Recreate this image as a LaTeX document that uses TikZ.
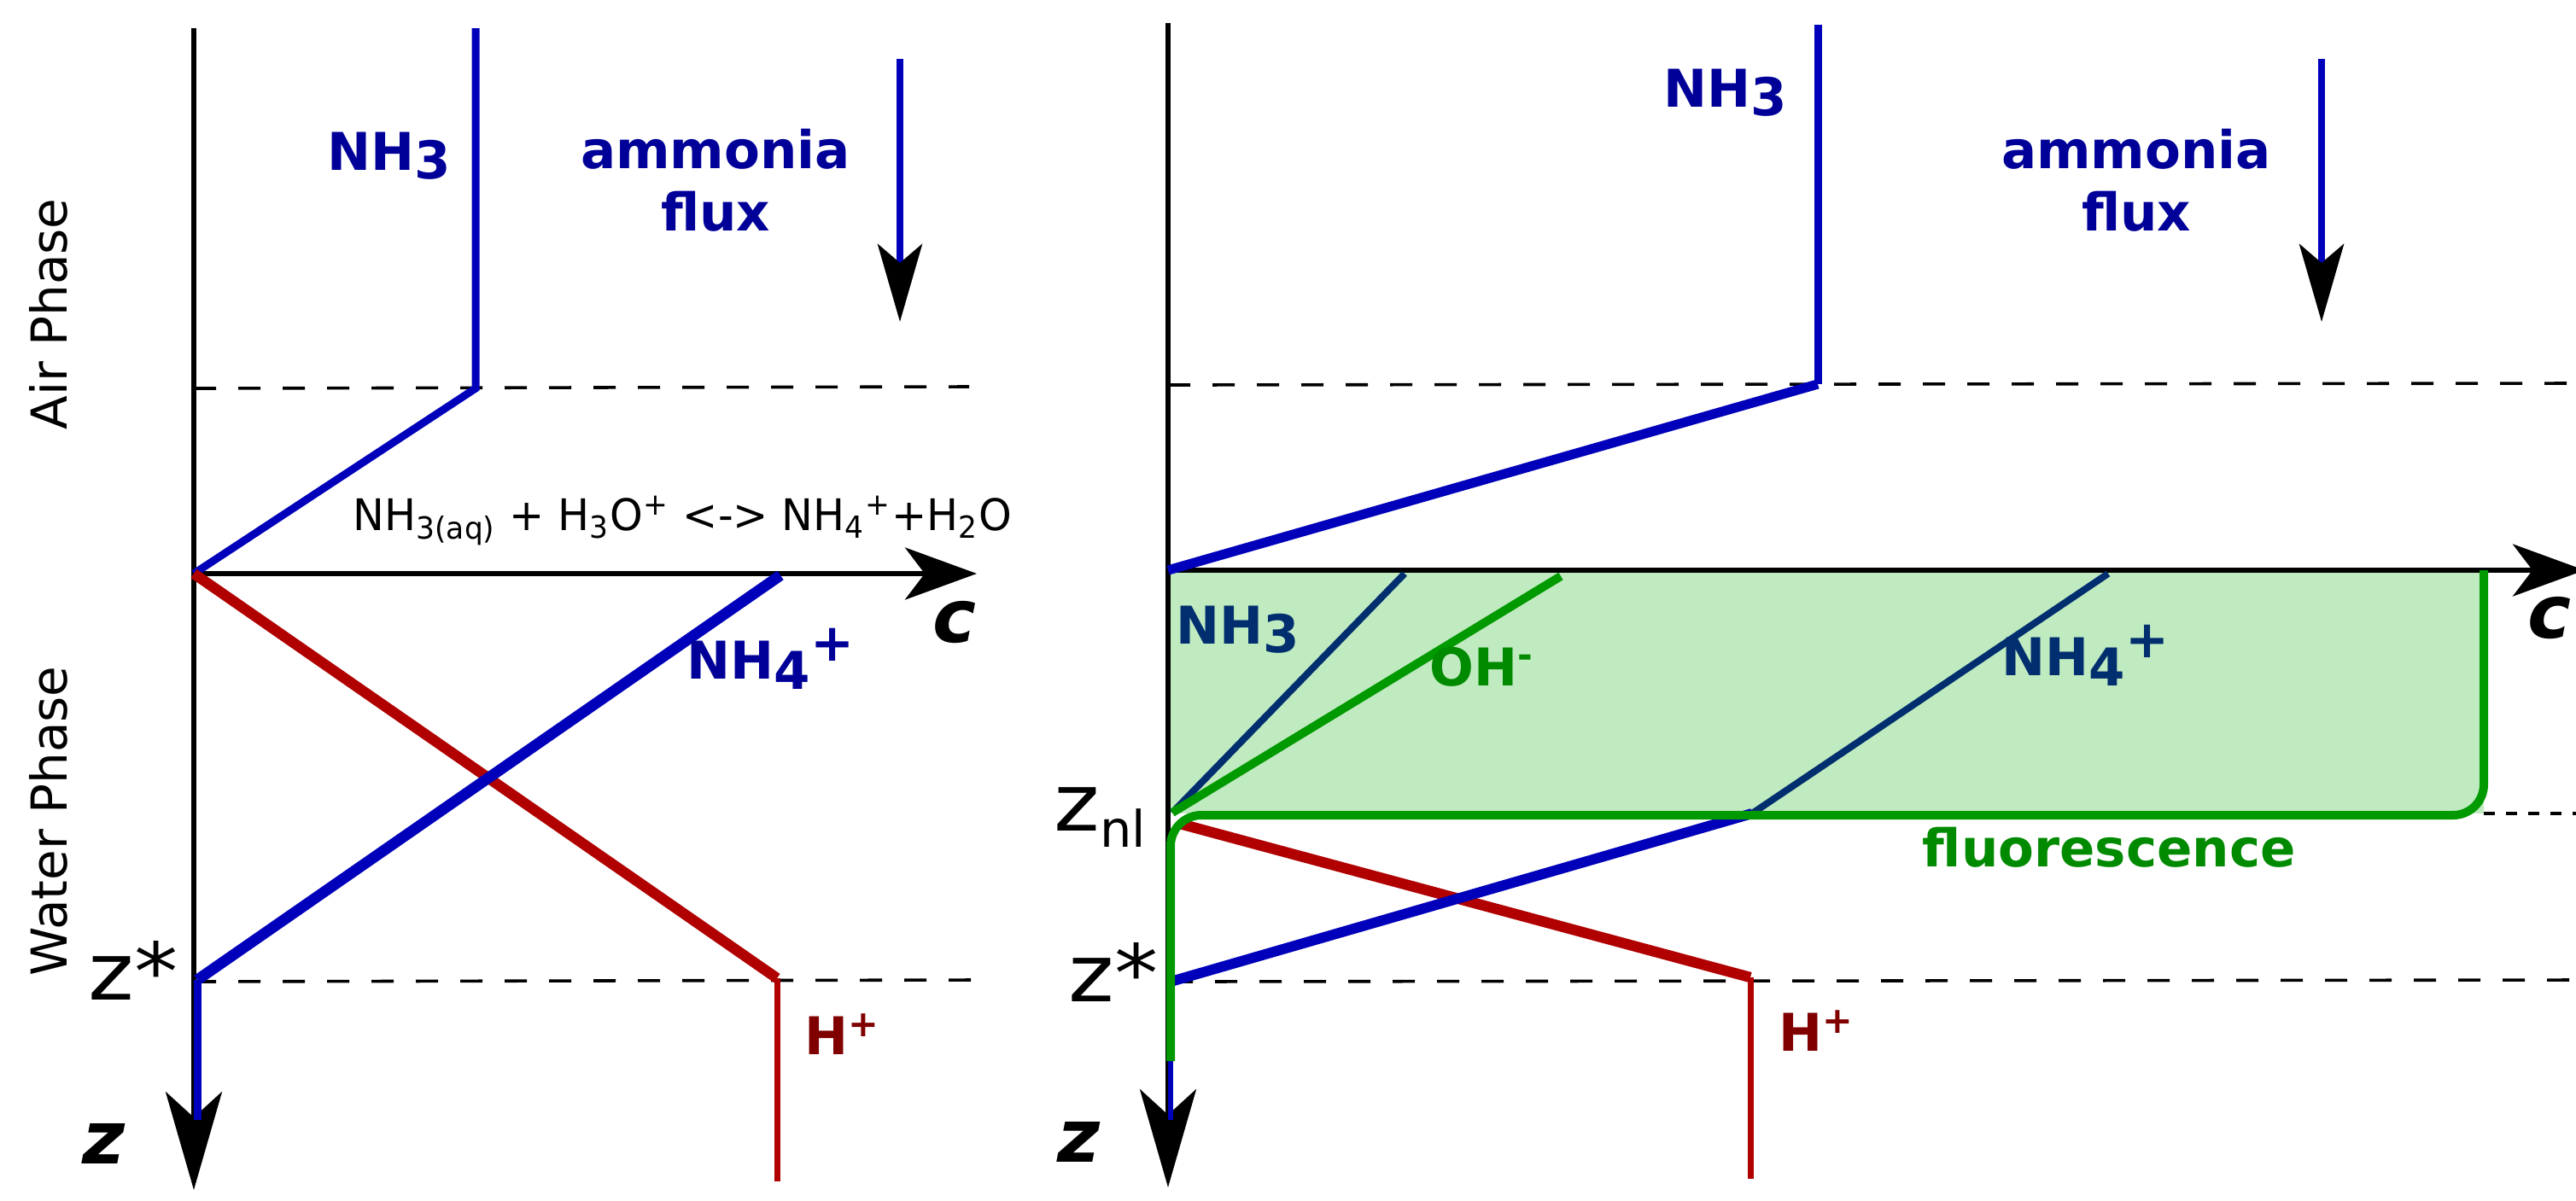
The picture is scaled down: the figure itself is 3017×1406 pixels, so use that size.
\documentclass[tikz,border=0pt]{standalone}
\usepackage{fontspec}
\setmainfont{DejaVu Sans}
\usetikzlibrary{arrows.meta}
\definecolor{lineblue}{HTML}{0000BB}
\definecolor{txtblue}{HTML}{000099}
\definecolor{navy}{HTML}{002E6E}
\definecolor{redline}{HTML}{B00000}
\definecolor{txtred}{HTML}{800000}
\definecolor{grn}{HTML}{009900}
\definecolor{txtgrn}{HTML}{008A00}
\definecolor{grnfill}{HTML}{C0EAC0}
\tikzset{
  axisline/.style={line width=1.45pt, black},
  zaxis/.style={axisline, -{Stealth[length=28.75pt, width=16.5pt, inset=7.5pt]}},
  caxis/.style={axisline, -{Stealth[length=21pt, width=15.25pt, inset=5.75pt]}},
  fluxarrow/.style={line width=2pt, lineblue, -{Stealth[length=22.75pt, width=13pt, inset=5.5pt, color=black]}},
  dashline/.style={line width=0.9pt, black, dash pattern=on 6.5pt off 6.5pt},
  dotline/.style={line width=0.9pt, black, dash pattern=on 3.25pt off 3.25pt},
  thinblue/.style={line width=2.25pt, lineblue, line join=miter},
  thickblue/.style={line width=3.2pt, lineblue},
  thickred/.style={line width=3.1pt, redline},
  thinred/.style={line width=1.75pt, redline},
  navyline/.style={line width=2pt, navy},
  greenline/.style={line width=2.5pt, grn},
  lbl/.style={inner sep=0pt, anchor=base west},
  boldlbl/.style={lbl, font=\fontsize{15.25pt}{18.25pt}\selectfont\bfseries},
  phaselbl/.style={inner sep=0pt, rotate=90, font=\fontsize{14.5pt}{17pt}\selectfont},
  zlbl/.style={lbl, font=\fontsize{23.25pt}{27pt}\selectfont},
  axlbl/.style={lbl, font=\fontsize{21.5pt}{25pt}\selectfont\bfseries\itshape},
}
\begin{document}
\begin{tikzpicture}[x=0.25pt,y=-0.25pt]
\useasboundingbox (0,0) rectangle (3017,1406);
\clip (0,0) rectangle (3017,1406);

% ---------------- LEFT PANEL ----------------
\coordinate (LaxT) at (227,33);
\coordinate (LaxB) at (227,1394);
\coordinate (LO) at (227,672);
\coordinate (LcR) at (1144,672);
\coordinate (LnhT) at (557,33);
\coordinate (LnhK) at (557,455);
\coordinate (LdT1) at (227,455);
\coordinate (LdT2) at (1135,453);
\coordinate (LrK) at (910,1146);
\coordinate (LrB) at (910,1384);
\coordinate (LbT) at (914,674);
\coordinate (LbK) at (231,1148);
\coordinate (LbB) at (231,1312);
\coordinate (LdZ1) at (227,1150);
\coordinate (LdZ2) at (1140,1148);
\coordinate (LfT) at (1054,69);
\coordinate (LfB) at (1054,377);

\draw[dashline] (LdT1) -- (LdT2);
\draw[dashline] (LdZ1) -- (LdZ2);
\draw[zaxis] (LaxT) -- (LaxB);
\draw[thinblue] (LbK) -- (LbB);
\draw[caxis] (LO) -- (LcR);
\draw[thinblue] (LnhT) -- (LnhK) -- (LO);
\draw[thickred] (LO) -- (LrK);
\draw[thinred] (LrK) -- (LrB);
\draw[thickblue] (LbT) -- (LbK);
\draw[fluxarrow] (LfT) -- (LfB);

\node[phaselbl] (airL) at (57,368) {Air Phase};
\node[phaselbl] (waterL) at (57,962) {Water Phase};
\node[boldlbl, txtblue] (nh3L) at (383,199) {NH\raisebox{-0.17em}{3}};
\node[inner sep=0pt, anchor=north, align=center, txtblue, font=\fontsize{15.25pt}{18.25pt}\selectfont\bfseries] (fluxL) at (838,150) {ammonia\\flux};
\node[lbl, font=\fontsize{12.75pt}{15pt}\selectfont] (eq) at (413,621) {\scalebox{0.965}[1]{NH\textsubscript{3(aq)} + H\textsubscript{3}O\textsuperscript{+} <-> NH\textsubscript{4}\textsuperscript{+}+H\textsubscript{2}O}};
\node[boldlbl, txtblue] (nh4L) at (804,795) {NH\raisebox{-0.21em}{4}\raisebox{0.33em}{+}};
\node[boldlbl, txtred] (hL) at (942,1235) {H\textsuperscript{+}};
\node[zlbl] (zstarL) at (103,1171) {\scalebox{1.1}[1]{z*}};
\node[axlbl] (zL) at (96,1363) {z};
\node[axlbl] (cL) at (1092,752) {c};

% ---------------- RIGHT PANEL ----------------
\coordinate (RaxT) at (1368,27);
\coordinate (RaxB) at (1368,1391);
\coordinate (RO) at (1368,668);
\coordinate (RcR) at (3027,668);
\coordinate (RnhT) at (2129,29);
\coordinate (RnhK) at (2129,450);
\coordinate (RdT1) at (1368,451);
\coordinate (RdT2) at (3017,449);
\coordinate (RboxA) at (1370,670);
\coordinate (RboxB) at (2909,953);
\coordinate (RgT) at (2909,668);
\coordinate (RgC1) at (2909,955);
\coordinate (RgC2) at (1371,955);
\coordinate (RgB) at (1371,1243);
\coordinate (Rznl) at (1373,952);
\coordinate (RnavT) at (1645,672);
\coordinate (RohT) at (1828,675);
\coordinate (Rnh4T) at (2469,672);
\coordinate (Rnh4K) at (2052,953);
\coordinate (Rzs) at (1371,1150);
\coordinate (RzsB) at (1371,1312);
\coordinate (RrT) at (1382,965);
\coordinate (RrK) at (2050,1145);
\coordinate (RrB) at (2050,1381);
\coordinate (RdZ2) at (3017,1148);
\coordinate (RdF2) at (3017,953);
\coordinate (RfT) at (2719,69);
\coordinate (RfB) at (2719,377);

\fill[grnfill] (RboxA) rectangle (RboxB);
\draw[dashline] (RdT1) -- (RdT2);
\draw[dashline] (Rzs) -- (RdZ2);
\draw[dotline] (RboxB) -- (RdF2);
\draw[zaxis] (RaxT) -- (RaxB);
\draw[thinblue, line width=1.6pt] (Rzs) -- (RzsB);
\draw[caxis] (RO) -- (RcR);
\draw[thinblue] (RnhT) -- (RnhK);
\draw[thickblue, line width=2.8pt] (RnhK) -- (RO);
\draw[navyline] (RnavT) -- (Rznl);
\draw[greenline] (RohT) -- (Rznl);
\draw[navyline] (Rnh4T) -- (Rnh4K);
\draw[thickred] (RrT) -- (RrK);
\draw[thinred] (RrK) -- (RrB);
\draw[thickblue, line width=3pt] (Rnh4K) -- (Rzs);
\draw[greenline, rounded corners=9pt] (RgT) -- (RgC1) -- (RgC2) -- (RgB);
\draw[fluxarrow] (RfT) -- (RfB);

\node[boldlbl, txtblue] (nh3R) at (1948,125) {NH\raisebox{-0.17em}{3}};
\node[inner sep=0pt, anchor=north, align=center, txtblue, font=\fontsize{15.25pt}{18.25pt}\selectfont\bfseries] (fluxR) at (2502,150) {ammonia\\flux};
\node[boldlbl, navy] (nh3box) at (1377,754) {NH\raisebox{-0.17em}{3}};
\node[boldlbl, txtgrn] (oh) at (1674,803) {OH\textsuperscript{-}};
\node[boldlbl, navy] (nh4R) at (2344,791) {NH\raisebox{-0.21em}{4}\raisebox{0.33em}{+}};
\node[boldlbl, txtgrn] (fluo) at (2251,1015) {fluorescence};
\node[boldlbl, txtred] (hR) at (2083,1231) {H\textsuperscript{+}};
\node[zlbl] (znl) at (1234,973) {\scalebox{1.1}[1]{z}\raisebox{-4.75pt}{\fontsize{14.75pt}{17pt}\selectfont nl}};
\node[zlbl] (zstarR) at (1251,1173) {\scalebox{1.1}[1]{z*}};
\node[axlbl] (zR) at (1238,1361) {z};
\node[axlbl] (cR) at (2960,747) {c};
\end{tikzpicture}
\end{document}
